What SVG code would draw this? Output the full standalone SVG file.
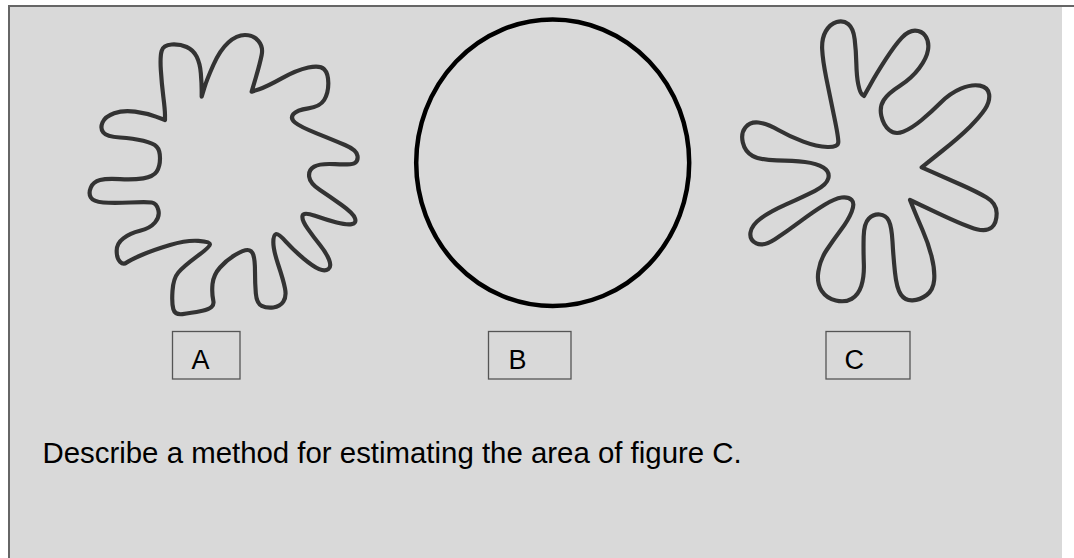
<svg xmlns="http://www.w3.org/2000/svg" width="1074" height="558" viewBox="0 0 1074 558">
<style>
.blob{fill:none;stroke:#333;stroke-width:12.5;stroke-linejoin:round}
.box{fill:none;stroke:#555;stroke-width:1.3}
.lbl{font-family:"Liberation Sans",Arial,sans-serif;font-size:27px;fill:#000}
.q{font-family:"Liberation Sans",Arial,sans-serif;font-size:29.4px;fill:#000}
</style>
<rect x="0" y="0" width="1074" height="558" fill="#fff"/>
<rect x="9" y="6" width="1053" height="552" fill="#d9d9d9"/>
<line x1="8" y1="6" x2="1074" y2="6" stroke="#666" stroke-width="2"/>
<line x1="9" y1="5" x2="9" y2="558" stroke="#666" stroke-width="2"/>
<g id="figA">
<path class="blob" transform="translate(80,30) scale(0.33333)" d="M365,200 L372.5,175 Q380,150 400,105 Q420,60 445,37.5 Q470,15 495,15 Q520,15 535,32.5 Q550,50 545,75 Q540,100 527.5,142.5 L515,185 L537.5,177.5 Q560,170 605,145 Q650,120 685,112.5 Q720,105 732.5,117.5 Q745,130 745,160 Q745,190 732.5,210 Q720,230 685,235 Q650,240 640,252.5 Q630,265 645,277.5 Q660,290 710,310 Q760,330 795,345 Q830,360 832.5,377.5 Q835,395 822.5,400 Q810,405 765,402.5 Q720,400 702.5,410 Q685,420 687.5,440 Q690,460 720,480 Q750,500 785,525 Q820,550 825,565 Q830,580 815,582.5 Q800,585 770,577.5 Q740,570 705,557.5 Q670,545 667.5,557.5 Q665,570 682.5,595 Q700,620 720,645 Q740,670 747.5,690 Q755,710 745,717.5 Q735,725 717.5,717.5 Q700,710 670,685 Q640,660 617.5,635 Q595,610 587.5,612.5 Q580,615 580,637.5 Q580,660 595,705 Q610,750 615,775 Q620,800 610,815 Q600,830 580,832.5 Q560,835 545,827.5 Q530,820 527.5,790 Q525,760 525,725 Q525,690 520,675 Q515,660 502.5,660 Q490,660 465,675 Q440,690 420,712.5 Q400,735 397.5,762.5 Q395,790 400,812.5 Q405,835 367.5,842.5 Q330,850 307.5,852.5 Q285,855 280,837.5 Q275,820 277.5,782.5 Q280,745 295,727.5 Q310,710 350,680 Q390,650 390,642.5 Q390,635 355,632.5 Q320,630 270,645 Q220,660 185,675 Q150,690 140,697.5 Q130,705 120,695 Q110,685 110,662.5 Q110,640 130,625 Q150,610 180,602.5 Q210,595 225,577.5 Q240,560 235,540 Q230,520 215,517.5 Q200,515 150,517.5 Q100,520 70,517.5 Q40,515 32.5,502.5 Q25,490 32.5,472.5 Q40,455 60,450 Q80,445 120,447.5 Q160,450 190,445 Q220,440 230,425 Q240,410 240,385 Q240,360 230,350 Q220,340 190,332.5 Q160,325 120,322.5 Q80,320 70,307.5 Q60,295 67.5,277.5 Q75,260 102.5,250 Q130,240 165,245 Q200,250 227.5,260 L255,270 L255,255 Q255,240 250,200 Q245,160 242.5,120 Q240,80 245,62.5 Q250,45 275,43.5 Q300,42 320,51 Q340,60 350,80 Q360,100 362.5,130 Q365,160 365,180 Z"/>
</g>
<g id="figB">
<ellipse cx="552.7" cy="162.8" rx="136.5" ry="143.3" fill="none" stroke="#000" stroke-width="4.5"/>
</g>
<g id="figC">
<path class="blob" transform="translate(720,10) scale(0.33333)" d="M432,258 L451,224 Q470,190 497.5,147.5 Q525,105 545,83.5 Q565,62 585,62 Q605,62 616.5,78.5 Q628,95 624,120 Q620,145 597.5,175 Q575,205 540,227.5 Q505,250 491.5,270 Q478,290 484,317.5 Q490,345 507.5,360 Q525,375 550,365 Q575,355 605,330 Q635,305 662.5,277.5 Q690,250 722.5,236 Q755,222 780,227 Q805,232 807.5,253.5 Q810,275 795,297.5 Q780,320 750,350 Q720,380 662.5,426 L605,472 L642.5,488.5 Q680,505 725,525 Q770,545 800,562.5 Q830,580 830,610 Q830,640 815,652.5 Q800,665 770,657.5 Q740,650 655,610 L570,570 L580,595 Q590,620 607.5,660 Q625,700 635,740 Q645,780 642.5,810 Q640,840 620,855 Q600,870 577.5,871 Q555,872 542.5,853.5 Q530,835 525,787.5 Q520,740 517.5,695 Q515,650 506.5,632.5 Q498,615 479,613.5 Q460,612 446,626 Q432,640 431,680 Q430,720 431.5,760 Q433,800 424,827.5 Q415,855 395,866.5 Q375,878 347.5,871.5 Q320,865 305,842.5 Q290,820 295,785 Q300,750 320,720 Q340,690 362.5,660 Q385,630 395,605 Q405,580 395,570 Q385,560 365,562.5 Q345,565 312.5,585 Q280,605 240,635 Q200,665 165,687.5 Q130,710 109,700 Q88,690 91.5,667.5 Q95,645 122.5,625 Q150,605 200,582.5 Q250,560 285,542.5 Q320,525 325,505 Q330,485 310,472.5 Q290,460 255,456 Q220,452 170,451 Q120,450 97.5,437.5 Q75,425 68.5,397.5 Q62,370 76,352.5 Q90,335 115,337.5 Q140,340 175,360 Q210,380 250,395 Q290,410 322.5,411 Q355,412 355,396 Q355,380 342.5,320 Q330,260 319,205 Q308,150 306.5,117.5 Q305,85 317.5,63.5 Q330,42 350,36 Q370,30 385,42.5 Q400,55 404,87.5 Q408,120 409,160 Q410,200 415,224 Q420,248 426,253 L432,258 Z"/>
</g>
<g id="boxA">
<rect class="box" x="172.5" y="331.5" width="67.5" height="47.5"/>
<text class="lbl" x="191.5" y="368.5">A</text>
</g>
<g id="boxB">
<rect class="box" x="488.5" y="331.5" width="82.5" height="47.5"/>
<text class="lbl" x="508.5" y="368.5">B</text>
</g>
<g id="boxC">
<rect class="box" x="826" y="331.5" width="84" height="47.5"/>
<text class="lbl" x="844.5" y="369">C</text>
</g>
<g id="question">
<text class="q" x="42.5" y="463">Describe a method for estimating the area of figure C.</text>
</g>
<g id="connectors"/>
</svg>
